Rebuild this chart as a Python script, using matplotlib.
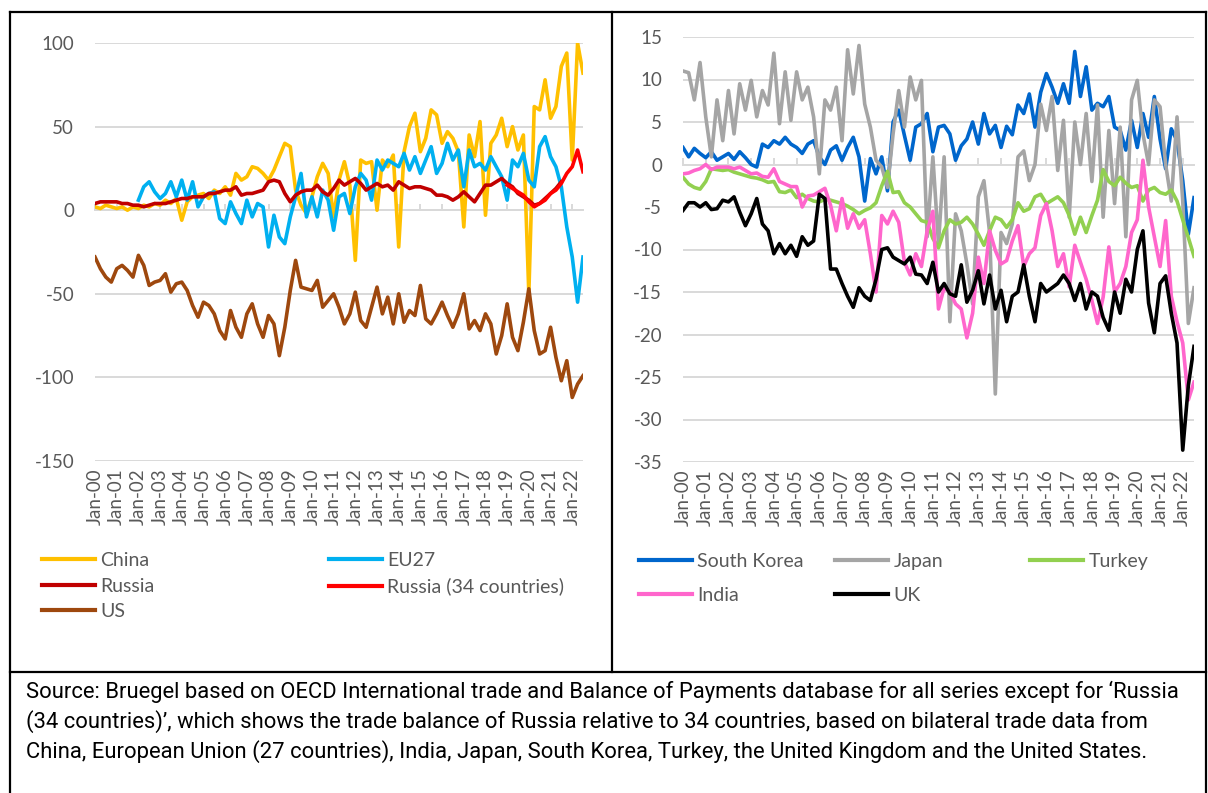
import numpy as np
import pandas as pd
import matplotlib
matplotlib.use("Agg")
import matplotlib.pyplot as plt
import matplotlib.dates as mdates
import matplotlib.ticker as mticker
from matplotlib.lines import Line2D

plt.rcParams['font.family'] = ['Lato', 'DejaVu Sans']
plt.rcParams['axes.unicode_minus'] = False

# quarterly readings, Jan-00 .. Jul-22
dates = pd.date_range('2000-01-01', periods=91, freq='QS')

# ---- left panel ----
china = [2, 1, 3, 2, 1, 2, 0, 2, 1, 3, 2, 4, 3, 6, 4, 7,
         -6, 5, 8, 9, 10, 7, 12, 10, 14, 9, 22, 18, 20, 26, 25, 22,
         18, 24, 32, 40, 38, 12, 3, -2, 8, 20, 28, 22, -4, 18, 29, 15,
         -30, 30, 28, 29, 0, 30, 26, 33, -22, 35, 50, 58, 35, 43, 60, 57,
         40, 47, 43, 35, -10, 45, 32, 53, -3, 40, 45, 55, 38, 50, 36, 45,
         -50, 62, 60, 78, 55, 62, 86, 94, 30, 100, 82]
eu27 = [6, 14, 17, 11, 7, 10, 17, 8, 18, 6, 17, 2, 8, 10, 11, -5,
        -8, 5, -2, -8, 6, -4, 4, 2, -22, -3, -16, -20, -4, 8, 22, -4,
        8, -4, 12, 6, -12, 8, 10, -2, 14, 22, 18, 6, 30, 24, 30, 28,
        26, 34, 24, 32, 22, 30, 38, 22, 28, 40, 30, 36, 14, 36, 26, 28,
        24, 32, 26, 20, 6, 30, 26, 34, 18, 14, 38, 44, 32, 26, 14, -10,
        -28, -55, -28]  # from Jan-02
russia = [4, 5, 5, 5, 5, 4, 4, 3, 3, 2, 3, 4, 4, 4, 5, 6,
          7, 7, 8, 8, 8, 10, 10, 11, 12, 12, 14, 9, 10, 10, 11, 12,
          17, 18, 17, 10, 5, 9, 11, 12, 12, 15, 11, 9, 13, 18, 15, 17,
          19, 16, 12, 14, 16, 14, 15, 12, 17, 15, 13, 14, 14, 13, 12, 9,
          9, 8, 6, 8, 11, 8, 5, 10, 15, 15, 17, 19, 16, 14, 10, 8,
          6, 3, 4, 7, 10, 13, 17]  # to Jul-21
russia34 = [15, 13, 11, 9, 5, 2, 4, 6, 10, 12, 16, 22, 26, 36, 23]  # from Jan-19
us = [-28, -35, -40, -43, -35, -33, -36, -40, -27, -33, -45, -43, -42, -38, -49, -44,
      -43, -48, -57, -64, -55, -57, -62, -72, -77, -60, -70, -76, -62, -56, -68, -76,
      -63, -68, -87, -70, -48, -30, -46, -47, -48, -42, -58, -54, -50, -58, -68, -62,
      -49, -66, -70, -58, -46, -62, -52, -68, -50, -67, -60, -63, -45, -65, -68, -62,
      -55, -63, -70, -62, -50, -71, -66, -72, -62, -68, -86, -75, -56, -76, -84, -67,
      -47, -72, -86, -84, -70, -88, -102, -90, -112, -104, -99]

# ---- right panel ----
skorea = [2.0, 0.9, 1.9, 1.3, 0.8, 1.5, 0.5, 0.9, 1.3, 0.6, 1.5, 0.8, 0.0, -0.3, 2.4, 2.0,
          2.8, 2.4, 3.2, 2.4, 2.0, 1.3, 2.4, 2.8, 0.9, 0.0, 1.7, 2.2, 0.5, 2.0, 3.2, 0.9,
          -4.3, 0.7, -1.1, 0.9, -3.1, 5.0, 6.4, 3.4, 0.5, 4.4, 4.8, 6.0, 1.5, 4.4, 4.6, 3.6,
          0.5, 2.2, 3.0, 5.0, 2.4, 6.0, 3.6, 4.6, 2.0, 4.5, 3.5, 7.0, 6.0, 8.3, 4.4, 8.5,
          10.7, 9.1, 7.2, 9.5, 7.2, 13.3, 8.0, 11.5, 6.4, 7.2, 6.8, 8.0, 4.4, 4.0, 1.7, 5.2,
          2.0, 6.0, 3.2, 8.0, 3.0, -0.5, 4.2, 2.8, -1.9, -8.2, -3.9]
japan = [11.0, 10.8, 7.6, 12.0, 5.6, 0.9, 7.6, 2.8, 8.7, 3.6, 9.5, 6.4, 9.9, 5.6, 8.7, 7.0,
         13.1, 4.8, 10.9, 5.2, 10.9, 7.6, 9.1, 5.6, -1.1, 7.6, 6.4, 9.1, 2.8, 13.5, 8.3, 14.0,
         7.1, 4.4, 0.5, -0.3, -2.7, 3.6, 8.7, 4.4, 10.3, 7.6, 9.9, -8.5, 0.9, -9.3, 0.9, -18.5,
         -5.8, -7.8, -11.7, -16.4, -3.8, -1.9, -8.0, -27.0, -8.0, -9.3, -7.0, 0.9, 1.6, -1.9, 0.0, 7.1,
         4.0, 8.0, -0.7, 5.2, -6.2, 5.0, 0.0, 6.0, -2.0, 7.0, -6.2, 4.0, -4.6, 4.4, -8.5, 7.6,
         9.9, 3.6, 0.0, 7.6, 6.8, 0.0, -4.3, 5.6, -4.3, -18.7, -14.5]
turkey = [-1.5, -2.3, -2.7, -2.9, -2.0, -0.5, -0.6, -0.7, -0.6, -0.9, -1.1, -1.3, -1.5, -1.6, -1.8, -2.1,
          -2.0, -3.2, -3.3, -3.0, -3.9, -3.5, -4.0, -4.3, -4.4, -4.1, -4.2, -4.4, -4.6, -4.9, -5.3, -5.8,
          -5.4, -5.1, -4.5, -2.5, -0.8, -3.3, -3.2, -4.5, -5.0, -5.8, -6.6, -6.8, -8.7, -9.8, -7.8, -6.5,
          -7.0, -6.8, -6.2, -7.0, -8.2, -9.5, -7.8, -6.2, -6.5, -7.4, -6.5, -4.5, -5.5, -5.2, -3.8, -3.5,
          -4.6, -4.2, -3.8, -4.5, -6.0, -8.2, -6.2, -8.0, -6.0, -4.2, -0.6, -2.0, -2.5, -1.5, -2.2, -2.7,
          -2.5, -4.3, -3.0, -2.7, -3.3, -3.5, -3.0, -4.3, -6.5, -8.6, -10.8]
india = [-1.1, -1.0, -0.7, -0.5, 0.0, -0.6, -0.3, -0.3, -0.3, -0.5, -0.3, -0.7, -1.1, -1.0, -1.4, -1.5,
         -0.5, -2.0, -2.3, -2.6, -2.6, -5.0, -3.7, -3.6, -3.2, -2.8, -4.8, -7.8, -4.0, -7.5, -5.8, -7.5,
         -6.5, -10.5, -15.0, -6.0, -7.0, -5.5, -6.8, -11.5, -13.0, -10.5, -12.0, -7.8, -5.5, -17.0, -14.5, -15.0,
         -16.4, -17.0, -20.4, -17.5, -10.9, -14.0, -7.8, -10.1, -11.7, -11.3, -9.0, -7.2, -12.0, -10.5, -9.8, -6.0,
         -4.6, -7.8, -12.0, -10.5, -14.4, -9.5, -11.5, -13.5, -16.0, -18.7, -15.6, -9.7, -15.0, -14.0, -12.0, -8.0,
         -6.5, 0.5, -5.0, -8.5, -12.0, -6.6, -15.5, -18.5, -21.0, -27.7, -25.6]
uk = [-5.4, -4.5, -4.5, -5.0, -4.5, -5.3, -5.2, -4.2, -4.4, -3.8, -5.6, -7.2, -5.8, -4.0, -7.0, -7.8,
      -10.5, -9.3, -10.5, -9.5, -10.8, -8.5, -9.5, -9.0, -3.5, -4.0, -12.3, -12.3, -14.0, -15.5, -16.8, -14.5,
      -15.5, -16.0, -13.5, -10.0, -9.8, -10.9, -11.3, -11.7, -10.9, -12.9, -13.0, -14.0, -11.5, -15.0, -14.0, -15.2,
      -15.5, -11.8, -16.2, -14.8, -12.5, -16.4, -13.0, -17.0, -14.8, -18.5, -15.5, -15.0, -11.8, -15.5, -18.5, -14.0,
      -15.0, -14.5, -14.0, -13.0, -14.0, -16.0, -14.0, -17.0, -15.0, -15.5, -18.0, -19.5, -15.0, -17.5, -13.5, -15.0,
      -10.0, -7.8, -16.3, -19.8, -14.0, -13.1, -17.5, -21.0, -33.6, -26.0, -21.4]

GRID = '#D9D9D9'
TXT = '#595959'
LW = 2.6
W, H = 1208, 793

fig = plt.figure(figsize=(W / 100, H / 100), dpi=100)
ax1 = fig.add_axes([95 / W, 1 - 461 / H, 488 / W, 418 / H])
ax2 = fig.add_axes([683 / W, 1 - 462 / H, 511 / W, 425 / H])


def style(ax, ymin, ymax, step):
    ax.set_ylim(ymin, ymax)
    ax.set_yticks(np.arange(ymin, ymax + step / 2, step))
    ax.set_xlim(dates[0], dates[-1])
    for s in ax.spines.values():
        s.set_visible(False)
    ax.yaxis.grid(True, color=GRID, lw=1.4)
    ax.set_axisbelow(True)
    ax.xaxis.set_major_locator(mdates.YearLocator())
    ax.xaxis.set_major_formatter(mdates.DateFormatter('%b-%y'))
    ax.tick_params(axis='x', length=0, labelsize=13.5, labelcolor=TXT, pad=5, labelrotation=90)
    ax.tick_params(axis='y', length=0, labelsize=13.5, labelcolor=TXT, pad=15)
    # horizontal axis line with ticks at zero
    zero = ax.secondary_xaxis((0 - ymin) / (ymax - ymin))
    zero.xaxis.set_major_locator(mdates.YearLocator())
    zero.xaxis.set_major_formatter(mticker.NullFormatter())
    zero.tick_params(direction='out', length=4, width=1.4, color=GRID)
    for k, s in zero.spines.items():
        s.set_visible(k == 'bottom')
        s.set_color(GRID)
        s.set_linewidth(1.4)


style(ax1, -150, 100, 50)
style(ax2, -35, 15, 5)

l_china, = ax1.plot(dates, china, color='#FFC000', lw=LW, label='China')
l_eu, = ax1.plot(dates[8:], eu27, color='#00B0F0', lw=LW, label='EU27')
l_ru, = ax1.plot(dates[:87], russia, color='#C00000', lw=LW, label='Russia')
l_ru34, = ax1.plot(dates[76:], russia34, color='#FF0000', lw=LW, label='Russia (34 countries)')
l_us, = ax1.plot(dates, us, color='#9E480E', lw=LW, label='US')

l_sk, = ax2.plot(dates, skorea, color='#0066CC', lw=LW, label='South Korea')
l_jp, = ax2.plot(dates, japan, color='#A5A5A5', lw=LW, label='Japan')
l_tr, = ax2.plot(dates, turkey, color='#92D050', lw=LW, label='Turkey')
l_in, = ax2.plot(dates, india, color='#FF66CC', lw=LW, label='India')
l_uk, = ax2.plot(dates, uk, color='#000000', lw=LW, label='UK')


def col_legend(handles, x, y, spacing):
    leg = fig.legend(handles=handles, loc='upper left', bbox_to_anchor=(x / W, 1 - y / H),
                     frameon=False, fontsize=14, handlelength=2.75, handletextpad=0.25,
                     labelspacing=spacing, borderpad=0, borderaxespad=0, labelcolor=TXT)
    for ln in leg.get_lines():
        ln.set_linewidth(3)


col_legend([l_china, l_ru, l_us], 42, 552, 0.44)
col_legend([l_eu, l_ru34], 329, 552, 0.44)
col_legend([l_sk, l_in], 639, 553, 0.86)
col_legend([l_jp, l_uk], 835, 553, 0.86)
col_legend([l_tr], 1030, 553, 0.86)

# table borders
for xs, ys in [((10, 10), (12, 793)), ((1206, 1206), (12, 793)), ((10, 1206), (12, 12)),
               ((612, 612), (12, 672)), ((10, 1206), (672, 672))]:
    fig.add_artist(Line2D([x / W for x in xs], [1 - y / H for y in ys],
                          transform=fig.transFigure, color='black', lw=1.6))

source = ["Source: Bruegel based on OECD International trade and Balance of Payments database for all series except for \u2018Russia",
          "(34 countries)\u2019, which shows the trade balance of Russia relative to 34 countries, based on bilateral trade data from",
          "China, European Union (27 countries), India, Japan, South Korea, Turkey, the United Kingdom and the United States."]
for i, line in enumerate(source):
    fig.text(26 / W, 1 - (692 + 30 * i) / H, line, ha='left', va='center', fontsize=15.8,
             family=['Roboto', 'DejaVu Sans'], color='black')

fig.savefig('out.png', dpi=100)
